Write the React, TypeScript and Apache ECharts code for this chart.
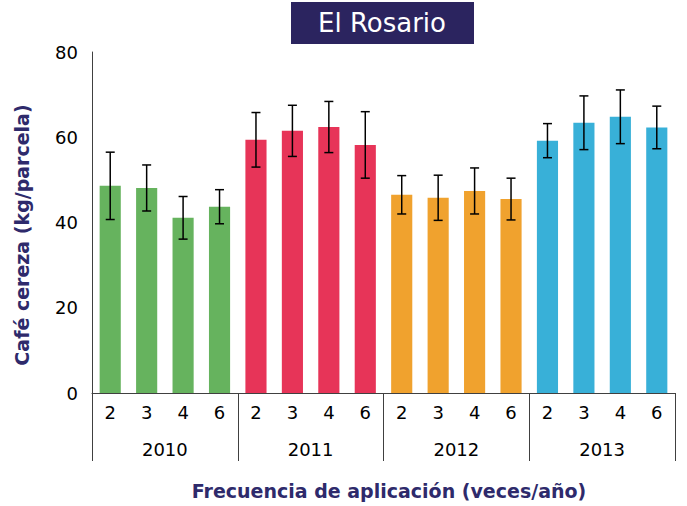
import React, { useEffect, useRef } from "react";
import * as echarts from "echarts";

const years = ["2010", "2011", "2012", "2013"];
const frequencies = ["2", "3", "4", "6"];
const yearColors = ["#66B35E", "#E73458", "#F0A22E", "#38B0D8"];
const values2010 = [48.6, 48.1, 41.1, 43.7];
const values2011 = [59.4, 61.5, 62.4, 58.2];
const values2012 = [46.5, 45.8, 47.4, 45.5];
const values2013 = [59.2, 63.4, 64.8, 62.3];
const errors2010 = [7.9, 5.4, 5.0, 4.0];
const errors2011 = [6.4, 6.0, 6.0, 7.8];
const errors2012 = [4.5, 5.3, 5.4, 4.9];
const errors2013 = [4.0, 6.3, 6.3, 5.0];
const yTicks = [0, 20, 40, 60, 80];

export default function App() {
  const ref = useRef<HTMLDivElement>(null);
  useEffect(() => {
    if (!ref.current) return;
    document.body.style.margin = "0";
    const chart = echarts.init(ref.current, null, { renderer: "svg" });
    const allValues = [values2010, values2011, values2012, values2013];
    const allErrors = [errors2010, errors2011, errors2012, errors2013];
    const categories: string[] = [];
    const barData: any[] = [];
    const errData: number[][] = [];
    allValues.forEach((vals, g) => {
      vals.forEach((v, i) => {
        categories.push(frequencies[i]);
        barData.push({ value: v, itemStyle: { color: yearColors[g] } });
        const e = allErrors[g][i];
        errData.push([categories.length - 1, v - e, v + e]);
      });
    });
    const axisColor = "#404040";
    const navy = "#2E2A6B";
    chart.setOption({
      animation: false,
      grid: { left: 92, right: 12, top: 52, bottom: 113, containLabel: false },
      graphic: [
        {
          type: "rect",
          shape: { x: 291, y: 2, width: 183, height: 42 },
          style: { fill: "#2B245F" },
        },
        {
          type: "text",
          x: 382,
          y: 23,
          style: {
            text: "El Rosario",
            fill: "#ffffff",
            font: "26px 'DejaVu Sans'",
            textAlign: "center",
            textVerticalAlign: "middle",
          },
        },
        {
          type: "text",
          x: 22,
          y: 235,
          rotation: Math.PI / 2,
          style: {
            text: "Café cereza (kg/parcela)",
            fill: navy,
            font: "bold 19px 'DejaVu Sans'",
            textAlign: "center",
            textVerticalAlign: "middle",
          },
        },
        {
          type: "text",
          x: 389,
          y: 491,
          style: {
            text: "Frecuencia de aplicación (veces/año)",
            fill: navy,
            font: "bold 19px 'DejaVu Sans'",
            textAlign: "center",
            textVerticalAlign: "middle",
          },
        },
      ],
      xAxis: [
        {
          type: "category",
          data: categories,
          axisLine: { show: true, lineStyle: { color: axisColor, width: 1 } },
          axisTick: { show: false },
          axisLabel: {
            interval: 0,
            margin: 10,
            color: "#000",
            fontSize: 18,
            fontFamily: "DejaVu Sans",
          },
        },
        {
          type: "category",
          data: years,
          position: "bottom",
          axisLine: { show: false },
          axisTick: {
            show: true,
            interval: 0,
            length: 68,
            lineStyle: { color: axisColor, width: 1 },
          },
          axisLabel: {
            interval: 0,
            margin: 47,
            color: "#000",
            fontSize: 18,
            fontFamily: "DejaVu Sans",
          },
        },
      ],
      yAxis: {
        type: "value",
        min: yTicks[0],
        max: yTicks[yTicks.length - 1],
        interval: 20,
        axisLine: { show: true, lineStyle: { color: axisColor, width: 1 } },
        axisTick: { show: false },
        splitLine: { show: false },
        axisLabel: {
          margin: 14,
          color: "#000",
          fontSize: 18,
          fontFamily: "DejaVu Sans",
        },
      },
      series: [
        {
          type: "bar",
          data: barData,
          barWidth: "58%",
          xAxisIndex: 0,
        },
        {
          type: "custom",
          xAxisIndex: 0,
          data: errData,
          z: 10,
          renderItem: (params: any, api: any) => {
            const x = api.value(0);
            const lo = api.coord([x, api.value(1)]);
            const hi = api.coord([x, api.value(2)]);
            const half = 4.5;
            const style = { stroke: "#000", lineWidth: 1.5 };
            return {
              type: "group",
              children: [
                { type: "line", shape: { x1: lo[0], y1: lo[1], x2: hi[0], y2: hi[1] }, style },
                { type: "line", shape: { x1: lo[0] - half, y1: lo[1], x2: lo[0] + half, y2: lo[1] }, style },
                { type: "line", shape: { x1: hi[0] - half, y1: hi[1], x2: hi[0] + half, y2: hi[1] }, style },
              ],
            };
          },
        },
      ],
    });
    return () => chart.dispose();
  }, []);
  return <div ref={ref} style={{ width: 687, height: 506 }} />;
}
